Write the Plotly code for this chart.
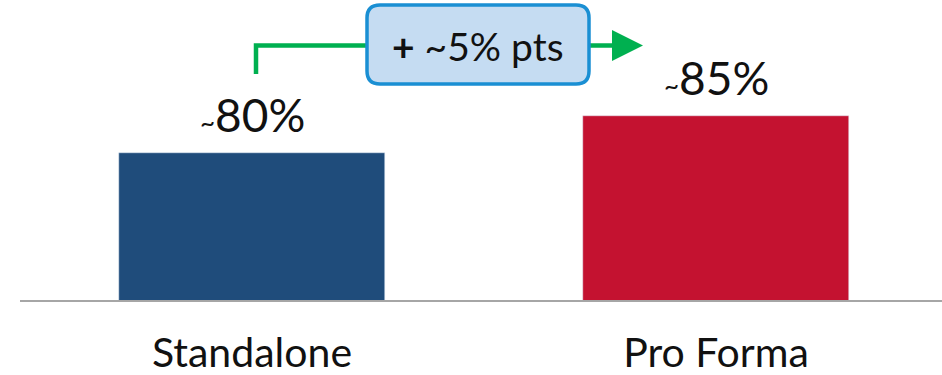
import plotly.graph_objects as go

categories = ["Standalone", "Pro Forma"]
values = [80, 85]
value_labels = ["80%", "85%"]
bar_colors = ["#1F4C7B", "#C41230"]
delta_label = "+ ~5% pts"

W, H = 942, 375
ML, MR, MT, MB = 20, 0, 0, 75
PW, PH = W - ML - MR, H - MT - MB

def px(x):
    return (x - ML) / PW

def py(y):
    return (H - MB - y) / PH

fig = go.Figure()
fig.add_trace(go.Bar(
    x=[0, 1], y=values, marker_color=bar_colors, width=0.573,
    hoverinfo="skip", showlegend=False,
))

font = "Lato, 'Open Sans', sans-serif"
for i, (v, lab) in enumerate(zip(values, value_labels)):
    fig.add_annotation(
        x=i, y=v, xref="x", yref="y", yanchor="bottom", yshift=9,
        text=f"<span style='font-size:26px'>~</span>{lab}",
        showarrow=False, font=dict(family=font, size=46, color="#111111"),
    )

green = "#00B050"
# connector
fig.add_shape(type="path",
              path=f"M {px(256)} {py(74)} L {px(256)} {py(45.5)} L {px(615)} {py(45.5)}",
              xref="paper", yref="paper", line=dict(color=green, width=4.5))
fig.add_shape(type="path",
              path=f"M {px(612)} {py(30)} L {px(643)} {py(45.5)} L {px(612)} {py(61)} Z",
              xref="paper", yref="paper", fillcolor=green, line=dict(color=green, width=0))

# rounded box
x0, x1, y0, y1, r = 367, 589, 5, 84, 13
def P(x, y):
    return f"{px(x)},{py(y)}"
box = (f"M {P(x0 + r, y0)} L {P(x1 - r, y0)} Q {P(x1, y0)} {P(x1, y0 + r)} "
       f"L {P(x1, y1 - r)} Q {P(x1, y1)} {P(x1 - r, y1)} "
       f"L {P(x0 + r, y1)} Q {P(x0, y1)} {P(x0, y1 - r)} "
       f"L {P(x0, y0 + r)} Q {P(x0, y0)} {P(x0 + r, y0)} Z")
fig.add_shape(type="path", path=box, xref="paper", yref="paper",
              fillcolor="#C5DCF2", line=dict(color="#1A8FD3", width=3.5))
fig.add_annotation(x=px((x0 + x1) / 2), y=py(46), xref="paper", yref="paper",
                   xanchor="center", yanchor="middle",
                   text="<b>+</b> ~5% pts", showarrow=False,
                   font=dict(family=font, size=39, color="#111111"))

fig.update_layout(
    width=W, height=H, margin=dict(l=ML, r=MR, t=MT, b=MB, autoexpand=False),
    plot_bgcolor="white", paper_bgcolor="white",
    xaxis=dict(range=[-0.5, 1.487], tickvals=[0, 1], ticktext=categories,
               showgrid=False, zeroline=False, showline=True,
               linecolor="#A6A6A6", linewidth=2, ticks="", automargin=False,
               tickfont=dict(family=font, size=41, color="#111111"),
               ticklabelstandoff=16, fixedrange=True),
    yaxis=dict(range=[60, 100.87], visible=False, fixedrange=True),
    bargap=0,
)
fig.write_html("out.html", config={"displayModeBar": False})
